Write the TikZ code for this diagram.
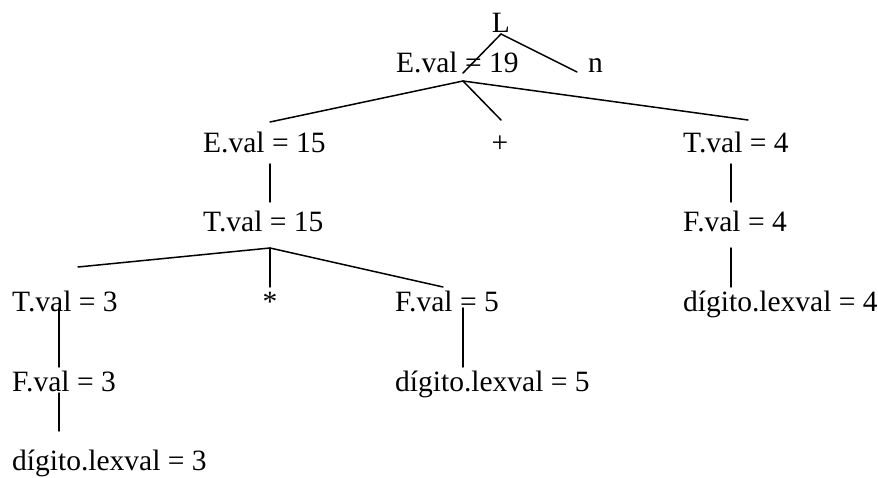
\documentclass[tikz,border=0pt]{standalone}
\usepackage{fontspec}
\setmainfont{Liberation Serif}
\begin{document}
\begin{tikzpicture}[x=1pt,y=-1pt,
  lbl/.style={anchor=base west,inner sep=0pt,font=\fontsize{29.5}{33}\selectfont},
  clbl/.style={anchor=base,inner sep=0pt,font=\fontsize{29.5}{33}\selectfont},
  edge/.style={line width=1.5pt,line cap=round}]
\useasboundingbox (0,0) rectangle (878,478);
% texts
\node[clbl] (L) at (501,33) {L};
\node[lbl] (E19) at (396,73) {E.val = 19};
\node[lbl] (n) at (588,73) {n};
\node[lbl] (E15) at (203,153) {E.val = 15};
\node[clbl] (plus) at (500,153) {+};
\node[lbl] (T4) at (683,153) {T.val = 4};
\node[lbl] (T15) at (203,232) {T.val = 15};
\node[lbl] (F4) at (683,232) {F.val = 4};
\node[lbl] (T3) at (12,312) {T.val = 3};
\node[clbl] (star) at (270,312) {*};
\node[lbl] (F5) at (395,312) {F.val = 5};
\node[lbl] (D4) at (683,312) {dígito.lexval = 4};
\node[lbl] (F3) at (12,391) {F.val = 3};
\node[lbl] (D5) at (395,391) {dígito.lexval = 5};
\node[lbl] (D3) at (12,470) {dígito.lexval = 3};
% connector end points
\coordinate (Lb) at (501,34);
\coordinate (E19t) at (463,73);
\coordinate (nt) at (577,72);
\coordinate (E19b) at (463,81);
\coordinate (E15t) at (270,122);
\coordinate (plust) at (501,120);
\coordinate (T4t) at (748,120);
\coordinate (E15b) at (270,164);
\coordinate (T15t) at (270,202);
\coordinate (T15b) at (270,248);
\coordinate (T3t) at (78,267);
\coordinate (start) at (270,287);
\coordinate (F5t) at (443,287);
\coordinate (T4b) at (731,164);
\coordinate (F4t) at (731,202);
\coordinate (F4b) at (731,248);
\coordinate (D4t) at (731,287);
\coordinate (T3b) at (59,308);
\coordinate (F3t) at (59,367);
\coordinate (F3b) at (59,393);
\coordinate (D3t) at (59,431);
\coordinate (F5b) at (463,308);
\coordinate (D5t) at (463,367);
% connectors
\draw[edge] (Lb) -- (E19t);
\draw[edge] (Lb) -- (nt);
\draw[edge] (E19b) -- (E15t);
\draw[edge] (E19b) -- (plust);
\draw[edge] (E19b) -- (T4t);
\draw[edge] (E15b) -- (T15t);
\draw[edge] (T15b) -- (T3t);
\draw[edge] (T15b) -- (start);
\draw[edge] (T15b) -- (F5t);
\draw[edge] (T4b) -- (F4t);
\draw[edge] (F4b) -- (D4t);
\draw[edge] (T3b) -- (F3t);
\draw[edge] (F3b) -- (D3t);
\draw[edge] (F5b) -- (D5t);
\end{tikzpicture}
\end{document}
